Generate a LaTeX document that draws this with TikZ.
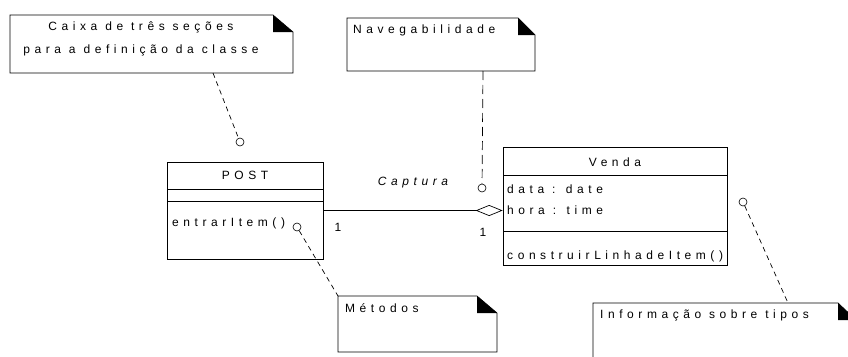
\documentclass[tikz,border=0pt]{standalone}
\usepackage{fontspec}
\setmainfont{Liberation Sans}
\newfontfamily\umlfont{Liberation Sans}[LetterSpace=38]
\usetikzlibrary{arrows.meta}

\tikzset{
    notebox/.style={draw=black,fill=white,line width=0.7pt},
    classbox/.style={draw=black,line width=0.7pt,inner sep=0pt},
    knob/.style={circle,draw=black,line width=0.6pt,inner sep=0pt,minimum size=8pt},
    tether/.style={line width=0.7pt,dash pattern=on 5pt off 4pt},
    umltext/.style={font=\umlfont\fontsize{12}{23}\selectfont,inner sep=0pt}
}

\begin{document}
\begin{tikzpicture}[x=1pt,y=-1pt]
    \useasboundingbox (0,0) rectangle (848,356);

    % note: three-section box
    \draw[notebox] (10,15) -- (273,15) -- (293,32) -- (293,73) -- (10,73) -- cycle;
    \fill (273,15) -- (273,32) -- (293,32) -- cycle;
    \node[umltext,align=center] (caixatext) at (141,39) {Caixa de três seções\\para a definição da classe};
    \coordinate (caixapin) at (213,73);

    % note: navigability
    \draw[notebox] (347,18) -- (518,18) -- (535,35) -- (535,71) -- (347,71) -- cycle;
    \fill (518,18) -- (518,35) -- (535,35) -- cycle;
    \node[umltext,anchor=west] (navtext) at (353,30) {Navegabilidade};
    \coordinate (navpin) at (483,71);

    % class POST
    \node[classbox,minimum width=156pt,minimum height=97pt] (post) at (245,210.5) {};
    \draw[line width=0.7pt] (167,189) -- (323,189);
    \draw[line width=0.7pt] (167,201) -- (323,201);
    \node[umltext] (postname) at (245,175) {POST};
    \node[umltext,anchor=west] (postop) at (172,223) {entrarItem()};

    % class Venda
    \node[classbox,minimum width=224pt,minimum height=118pt] (venda) at (615,206) {};
    \draw[line width=0.7pt] (503,175) -- (727,175);
    \draw[line width=0.7pt] (503,231) -- (727,231);
    \node[umltext] (vendaname) at (615,162) {Venda};
    \node[umltext,anchor=west] (vendadata) at (507,189) {data : date};
    \node[umltext,anchor=west] (vendahora) at (507,210) {hora : time};
    \node[umltext,anchor=west] (vendaop) at (507,256) {construirLinhadeItem()};

    % association
    \draw[line width=0.7pt,-{Diamond[open,length=27pt,width=11pt,line width=0.7pt]}]
        (post.east) -- (post.east -| venda.west);
    \node[umltext,font=\umlfont\itshape\fontsize{12}{13}\selectfont] (assoc) at (413,183) {Captura};
    \node[umltext] (multpost) at (338,227) {1};
    \node[umltext] (multvenda) at (483,232) {1};

    % note: methods
    \draw[notebox] (338,296) -- (477,296) -- (497,313) -- (497,352) -- (338,352) -- cycle;
    \fill (477,296) -- (477,313) -- (497,313) -- cycle;
    \node[umltext,anchor=west] (metodostext) at (345,308) {Métodos};
    \coordinate (metodospin) at (338,296);

    % note: type information
    \begin{scope}
        \clip (0,0) rectangle (848,356);
        \draw[notebox] (593,303) -- (838,303) -- (856,320) -- (856,370) -- (593,370) -- cycle;
        \fill (838,303) -- (838,320) -- (856,320) -- cycle;
    \end{scope}
    \node[umltext,anchor=west] (tipostext) at (600,315) {Informação sobre tipos};
    \coordinate (tipospin) at (788,303);

    % tethers
    \node[knob] (postknob) at (240,142) {};
    \node[knob] (navknob) at (482,188) {};
    \node[knob] (opknob) at (297,227) {};
    \node[knob] (vendaknob) at (743,202) {};
    \draw[tether] (caixapin) -- (postknob);
    \draw[tether,dash pattern=on 9pt off 5pt] (navpin) -- (navknob);
    \draw[tether] (opknob) -- (metodospin);
    \draw[tether] (vendaknob) -- (tipospin);
\end{tikzpicture}
\end{document}
